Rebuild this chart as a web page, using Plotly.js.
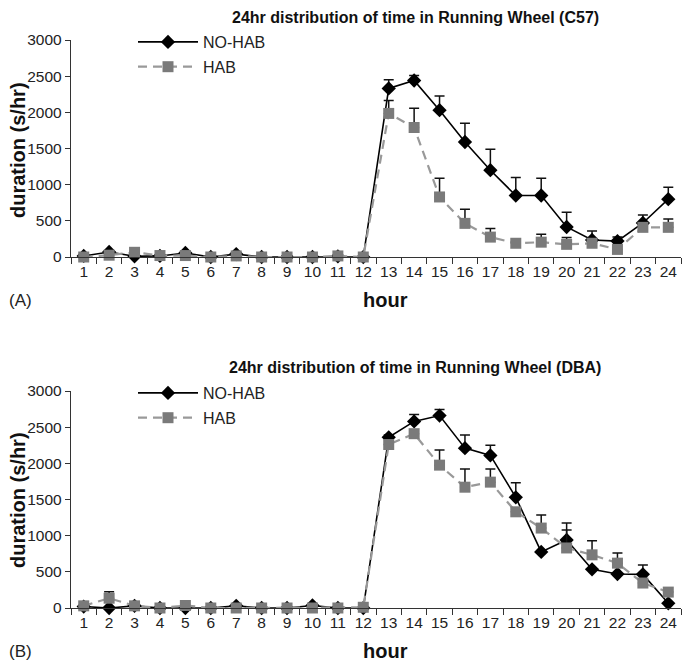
<!DOCTYPE html>
<html>
<head>
<meta charset="utf-8">
<script src="https://cdn.plot.ly/plotly-3.0.1.min.js"></script>
<style>html,body{margin:0;padding:0;background:#fff;}#chart{width:689px;height:666px;}</style>
</head>
<body>
<div id="chart"></div>
<script>
const hours = ['1','2','3','4','5','6','7','8','9','10','11','12','13','14','15','16','17','18','19','20','21','22','23','24'];

const c57NoHab    = [15, 70, 10, 15, 55, 0, 40, 0, 0, 0, 10, 0, 2330, 2440, 2030, 1590, 1200, 850, 850, 415, 235, 220, 470, 800];
const c57NoHabErr = [0, 0, 0, 0, 0, 0, 0, 0, 0, 0, 0, 0, 120, 70, 195, 260, 290, 250, 240, 205, 125, 55, 110, 165];
const c57Hab      = [0, 25, 65, 20, 20, 0, 15, 0, 0, 0, 15, 0, 1985, 1790, 830, 465, 275, 190, 205, 175, 190, 105, 410, 410];
const c57HabErr   = [0, 0, 0, 0, 0, 0, 0, 0, 0, 0, 0, 0, 180, 265, 260, 195, 120, 0, 110, 95, 0, 0, 0, 115];

const dbaNoHab    = [20, 0, 30, 0, 0, 0, 30, 0, 0, 35, 0, 0, 2360, 2580, 2660, 2210, 2110, 1530, 775, 940, 535, 470, 465, 65];
const dbaNoHabErr = [0, 0, 0, 0, 0, 0, 0, 0, 0, 0, 0, 0, 30, 95, 85, 180, 140, 200, 0, 235, 0, 0, 130, 0];
const dbaHab      = [30, 135, 30, 0, 35, 0, 0, 0, 0, 0, 0, 10, 2260, 2410, 1975, 1670, 1740, 1330, 1105, 830, 735, 620, 345, 220];
const dbaHabErr   = [0, 90, 0, 0, 0, 0, 0, 0, 0, 0, 0, 0, 0, 0, 210, 250, 180, 0, 180, 250, 195, 140, 0, 0];

const titles = ['24hr distribution of time in Running Wheel (C57)', '24hr distribution of time in Running Wheel (DBA)'];
const seriesNames = ['NO-HAB', 'HAB'];
const yTickVals = [0, 500, 1000, 1500, 2000, 2500, 3000];

const zeros = hours.map(() => 0);
function noHabTrace(y, err, xa, ya, lg) {
  return {
    x: hours, y: y, type: 'scatter', mode: 'lines+markers', name: seriesNames[0],
    xaxis: xa, yaxis: ya, legend: lg, legendgroup: lg + 'a', cliponaxis: false,
    line: {color: '#000000', width: 1.6},
    marker: {symbol: 'diamond', size: 11, color: '#000000'},
    error_y: {type: 'data', symmetric: false, array: err, arrayminus: zeros, color: '#111111', thickness: 1.5, width: 5}
  };
}
function habTrace(y, err, xa, ya, lg) {
  return {
    x: hours, y: y, type: 'scatter', mode: 'lines+markers', name: seriesNames[1],
    xaxis: xa, yaxis: ya, legend: lg, legendgroup: lg + 'b', cliponaxis: false,
    line: {color: '#999999', width: 2.2, dash: '9px,6px'},
    marker: {symbol: 'square', size: 11, color: '#7a7a7a'},
    error_y: {type: 'data', symmetric: false, array: err, arrayminus: zeros, color: '#111111', thickness: 1.5, width: 5}
  };
}

const data = [
  noHabTrace(c57NoHab, c57NoHabErr, 'x', 'y', 'legend'),
  habTrace(c57Hab, c57HabErr, 'x', 'y', 'legend'),
  noHabTrace(dbaNoHab, dbaNoHabErr, 'x2', 'y2', 'legend2'),
  habTrace(dbaHab, dbaHabErr, 'x2', 'y2', 'legend2')
];

const font = 'Liberation Sans, Arial, sans-serif';
const H = 666, W = 689;
const xDom = [71 / W, 681 / W];
function xAxis(anchor) {
  return {
    domain: xDom, anchor: anchor, type: 'category', range: [-0.5, 23.5],
    tickson: 'boundaries', ticks: 'outside', ticklen: 6, tickwidth: 1, tickcolor: '#333',
    tickangle: 0,
    showline: true, linecolor: '#333', linewidth: 1.2, showgrid: false, zeroline: false,
    tickfont: {family: font, size: 15.5, color: '#222'}, fixedrange: true
  };
}
function yAxis(anchor, top, bottom) {
  return {
    domain: [1 - bottom / H, 1 - top / H], anchor: anchor, range: [0, 3000],
    tickvals: yTickVals, ticks: 'outside', ticklen: 5, tickwidth: 1, tickcolor: '#333',
    showline: true, linecolor: '#333', linewidth: 1.2, showgrid: false, zeroline: false,
    tickfont: {family: font, size: 15.5, color: '#222'}, fixedrange: true
  };
}

function legendAt(yPx) {
  return {
    x: 133 / W, y: 1 - yPx / H, xanchor: 'left', yanchor: 'top',
    bgcolor: 'rgba(0,0,0,0)', font: {family: font, size: 16, color: '#222'},
    traceorder: 'grouped', itemwidth: 60, tracegroupgap: 1
  };
}

const ann = [];
function addPanel(titleY, plotMidY, hourY, label) {
  ann.push({text: '<b>' + label.title + '</b>', xref: 'paper', yref: 'paper', x: 415 / W, y: 1 - titleY / H,
            showarrow: false, xanchor: 'center', yanchor: 'middle', font: {family: font, size: 16, color: '#111'}});
  ann.push({text: '<b>duration (s/hr)</b>', xref: 'paper', yref: 'paper', x: 18 / W, y: 1 - plotMidY / H,
            textangle: -90, showarrow: false, xanchor: 'center', yanchor: 'middle', font: {family: font, size: 20, color: '#111'}});
  ann.push({text: '<b>hour</b>', xref: 'paper', yref: 'paper', x: 385 / W, y: 1 - hourY / H,
            showarrow: false, xanchor: 'center', yanchor: 'middle', font: {family: font, size: 20, color: '#111'}});
  ann.push({text: label.tag, xref: 'paper', yref: 'paper', x: 20 / W, y: 1 - (hourY) / H,
            showarrow: false, xanchor: 'center', yanchor: 'middle', font: {family: font, size: 17, color: '#222'}});
}
addPanel(17, 150, 300, {title: titles[0], tag: '(A)'});
addPanel(367, 500, 651, {title: titles[1], tag: '(B)'});

const layout = {
  width: W, height: H, margin: {l: 0, r: 0, t: 0, b: 0},
  paper_bgcolor: '#ffffff', plot_bgcolor: '#ffffff',
  showlegend: true,
  xaxis: xAxis('y'), yaxis: yAxis('x', 40, 257),
  xaxis2: xAxis('y2'), yaxis2: yAxis('x2', 391, 608),
  legend: legendAt(25), legend2: legendAt(376),
  annotations: ann
};

Plotly.newPlot('chart', data, layout, {displayModeBar: false, staticPlot: true});
</script>
</body>
</html>
